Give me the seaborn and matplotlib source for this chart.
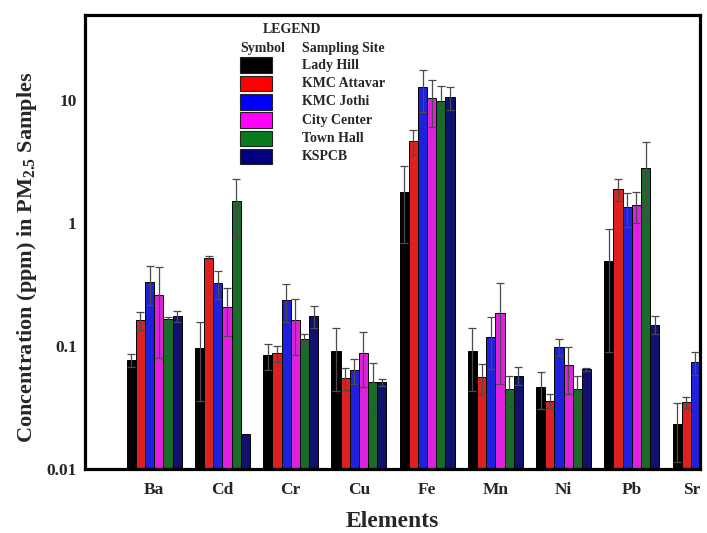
import numpy as np
import pandas as pd
import matplotlib
matplotlib.use("Agg")
import matplotlib.pyplot as plt
import matplotlib.transforms as mtransforms
from matplotlib.patches import Rectangle
from matplotlib.ticker import NullLocator
from matplotlib.container import BarContainer
import seaborn as sns

# Elements analysed and sampling sites
elements = ["Ba", "Cd", "Cr", "Cu", "Fe", "Mn", "Ni", "Pb", "Sr"]
sites = ["Lady Hill", "KMC Attavar", "KMC Jothi", "City Center", "Town Hall", "KSPCB"]
site_colors = ["#000000", "#ff0000", "#0000ff", "#ff00ff", "#0a7a1e", "#00007e"]

# Mean concentrations (ppm) per site, in element order
lady_hill   = [0.077, 0.097, 0.084, 0.091, 1.79, 0.091, 0.046, 0.49, 0.023]
kmc_attavar = [0.162, 0.52, 0.087, 0.055, 4.64, 0.056, 0.036, 1.89, 0.035]
kmc_jothi   = [0.33, 0.324, 0.237, 0.064, 12.85, 0.119, 0.098, 1.34, 0.074]
city_center = [0.26, 0.209, 0.162, 0.088, 10.3, 0.186, 0.0695, 1.39, np.nan]
town_hall   = [0.166, 1.52, 0.115, 0.0507, 9.75, 0.0447, 0.0447, 2.81, np.nan]
kspcb       = [0.174, 0.0191, 0.175, 0.0507, 10.5, 0.0575, 0.0644, 0.149, np.nan]

# Standard deviations (ppm)
lady_hill_sd   = [0.009, 0.061, 0.02, 0.048, 1.1, 0.048, 0.0155, 0.40, 0.0115]
kmc_attavar_sd = [0.028, 0.015, 0.013, 0.011, 1.07, 0.016, 0.0045, 0.39, 0.0035]
kmc_jothi_sd   = [0.114, 0.085, 0.08, 0.015, 4.8, 0.054, 0.015, 0.41, 0.0155]
city_center_sd = [0.18, 0.088, 0.078, 0.042, 4.3, 0.137, 0.029, 0.40, np.nan]
town_hall_sd   = [0.006, 0.76, 0.011, 0.022, 3.2, 0.0125, 0.0125, 1.78, np.nan]
kspcb_sd       = [0.017, 0.0, 0.035, 0.003, 2.2, 0.0097, 0.0016, 0.025, np.nan]

means = [lady_hill, kmc_attavar, kmc_jothi, city_center, town_hall, kspcb]
sds = [lady_hill_sd, kmc_attavar_sd, kmc_jothi_sd, city_center_sd, town_hall_sd, kspcb_sd]

rows = []
for site, vals, errs in zip(sites, means, sds):
    for el, v, e in zip(elements, vals, errs):
        rows.append({"Element": el, "Site": site, "Conc": v, "SD": e})
df = pd.DataFrame(rows).dropna()

sns.set_style("white")
plt.rcParams["font.family"] = ["Liberation Serif", "DejaVu Serif"]
plt.rcParams["font.weight"] = "bold"
plt.rcParams["mathtext.fontset"] = "custom"
plt.rcParams["mathtext.rm"] = "Liberation Serif:bold"
plt.rcParams["mathtext.it"] = "Liberation Serif:bold"
plt.rcParams["mathtext.bf"] = "Liberation Serif:bold"

W, H = 707, 533
fig = plt.figure(figsize=(W / 100, H / 100), dpi=100)
ax = fig.add_axes([85 / W, 64 / H, 615 / W, 454 / H])

sns.barplot(data=df, x="Element", y="Conc", hue="Site", order=elements,
            hue_order=sites, palette=site_colors, errorbar=None, width=0.806,
            edgecolor="black", linewidth=0.7, legend=False, ax=ax)
ax.set_yscale("log")

# error bars drawn over each bar
bar_sets = [c for c in ax.containers if isinstance(c, BarContainer)]
for k, cont in enumerate(bar_sets):
    for bar in cont:
        if bar is None:
            continue
        h = bar.get_height()
        if not np.isfinite(h) or h <= 0:
            continue
        xc = bar.get_x() + bar.get_width() / 2
        gi = int(round(xc))
        e = sds[k][gi]
        if not np.isfinite(e) or e <= 0:
            continue
        ax.errorbar(xc, h, yerr=e, fmt="none", ecolor="#4a4a4a", elinewidth=0.9,
                    capsize=2.7, capthick=0.9, zorder=5)

ax.set_ylim(0.01, 49)
ax.set_xlim(-1.015, 8.0)
ax.set_yticks([0.01, 0.1, 1, 10])
ax.set_yticklabels(["0.01", "0.1", "1", "10"])
ax.yaxis.set_minor_locator(NullLocator())
ax.tick_params(axis="both", length=0, labelsize=12.5)
ax.tick_params(axis="y", pad=6)
ax.tick_params(axis="x", pad=9)
for lab in ax.get_xticklabels() + ax.get_yticklabels():
    lab.set_fontweight("bold")

# the last group sits on the right frame; nudge its label inward
last = ax.get_xticklabels()[-1]
last.set_transform(last.get_transform() +
                   mtransforms.ScaledTranslation(-8 / 100, 0, fig.dpi_scale_trans))

for sp in ax.spines.values():
    sp.set_visible(True)
    sp.set_color("black")
    sp.set_linewidth(2.3)

ax.set_xlabel("Elements", fontsize=17, fontweight="bold", labelpad=10)
ax.set_ylabel(r"Concentration (ppm) in PM$_{2.5}$ Samples", fontsize=16,
              fontweight="bold", labelpad=5)
ax.yaxis.label.set_y(0.466)


def fx(px):
    return px / W


def fy(py):
    return 1 - py / H


# legend block
fig.text(fx(291.7), fy(29.3), "LEGEND", ha="center", va="center",
         fontsize=10, fontweight="bold")
fig.text(fx(240), fy(48.3), "Symbol", ha="left", va="center",
         fontsize=10, fontweight="bold")
fig.text(fx(301.5), fy(48.3), "Sampling Site", ha="left", va="center",
         fontsize=10, fontweight="bold")
for i, (site, col) in enumerate(zip(sites, site_colors)):
    top = 57.5 + 18.3 * i
    fig.add_artist(Rectangle((fx(240), fy(top + 15.5)), 32 / W, 15.5 / H,
                             transform=fig.transFigure, facecolor=col,
                             edgecolor="#222222", linewidth=0.8))
    fig.text(fx(301.5), fy(top + 7.8), site, ha="left", va="center",
             fontsize=10, fontweight="bold")

fig.savefig("out.png", dpi=100)
